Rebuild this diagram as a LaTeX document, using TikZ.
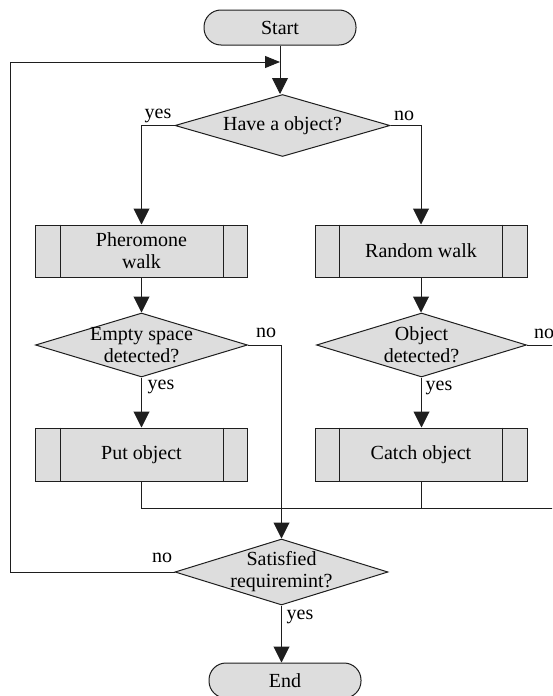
\documentclass[tikz,border=0pt]{standalone}
\usepackage{fontspec}
\setmainfont{Liberation Serif}
\usetikzlibrary{shapes.geometric,arrows.meta}
\definecolor{boxfill}{RGB}{221,221,221}
\definecolor{edge}{RGB}{30,30,30}

\begin{document}
\begin{tikzpicture}[x=1pt,y=-1pt,
  every node/.style={font=\fontsize{20}{22}\selectfont},
  shapebase/.style={draw=edge, line width=1pt, fill=boxfill, inner sep=0pt},
  terminal/.style={shapebase, rectangle, rounded corners=17pt,
    minimum width=152pt, minimum height=35pt},
  decision/.style={shapebase, diamond, aspect=3.3},
  subproc/.style={shapebase, rectangle, align=center,
    minimum width=212pt, minimum height=53pt},
  dtext/.style={label={[align=center, inner sep=0pt]center:#1}},
  lbl/.style={inner sep=0pt},
  conn/.style={draw=edge, line width=1pt},
  arr/.style={conn, -{Triangle[width=16pt,length=16pt]}},
  smallarr/.style={conn, -{Triangle[width=12pt,length=15pt]}}
]
\useasboundingbox (0,0) rectangle (552,696);
\clip (0,0) rectangle (552,696);

% terminals
\node[terminal] (start) at (280,27.5) {Start};
\node[terminal] (end) at (285,680.5) {End};

% decisions
\node[decision, minimum width=215pt, minimum height=62pt,
  dtext={Have a object?}] (have) at (282.5,125.5) {};
\node[decision, minimum width=212pt, minimum height=64pt,
  dtext={Empty space\\detected?}] (empty) at (141.5,345) {};
\node[decision, minimum width=210pt, minimum height=64pt,
  dtext={Object\\detected?}] (obj) at (421.5,345) {};
\node[decision, minimum width=213pt, minimum height=66pt,
  dtext={Satisfied\\requiremint?}] (sat) at (281.5,572) {};

% predefined processes
\node[subproc, minimum height=52pt] (pher) at (141.5,251) {Pheromone\\walk};
\node[subproc, minimum height=52pt] (rand) at (421,251) {Random walk};
\node[subproc] (put) at (141.5,454.5) {Put object};
\node[subproc] (catch) at (421,454.5) {Catch object};

% side bars of the predefined processes
\foreach \n in {pher,rand,put,catch}{
  \draw[conn] ([xshift=25pt]\n.north west) -- ([xshift=25pt]\n.south west);
  \draw[conn] ([xshift=-25pt]\n.north east) -- ([xshift=-25pt]\n.south east);
}

% helper points for the loops
\coordinate (fbcorner) at (10,62);
\coordinate (join) at (575,508);

% connectors
\draw[arr] (start.south) -- (start.south |- have.north);
\draw[arr] (have.west) -| (pher.north);
\draw[arr] (have.east) -| (rand.north);
\draw[arr] (pher.south) -- (empty.north);
\draw[arr] (rand.south) -- (rand.south |- obj.north);
\draw[arr] (empty.south) -- (put.north);
\draw[arr] (obj.south) -- (obj.south |- catch.north);
\draw[arr] (empty.east) -| (sat.north);
\draw[conn] (obj.east) -| (join) -- (put.south |- join) -- (put.south);
\draw[conn] (catch.south) -- (catch.south |- join);
\draw[arr] (sat.south) -- (sat.south |- end.north);
\draw[smallarr] (sat.west) -| (fbcorner) -- (fbcorner -| start.south);

% branch labels
\node[lbl] (yesA) at (158,116) {yes};
\node[lbl] (noA) at (404,116) {no};
\node[lbl] (noB) at (266,333) {no};
\node[lbl] (yesB) at (161,386.5) {yes};
\node[lbl] (noC) at (544,334) {no};
\node[lbl] (yesC) at (439,387.5) {yes};
\node[lbl] (noD) at (162,558) {no};
\node[lbl] (yesD) at (300,617) {yes};
\end{tikzpicture}
\end{document}
